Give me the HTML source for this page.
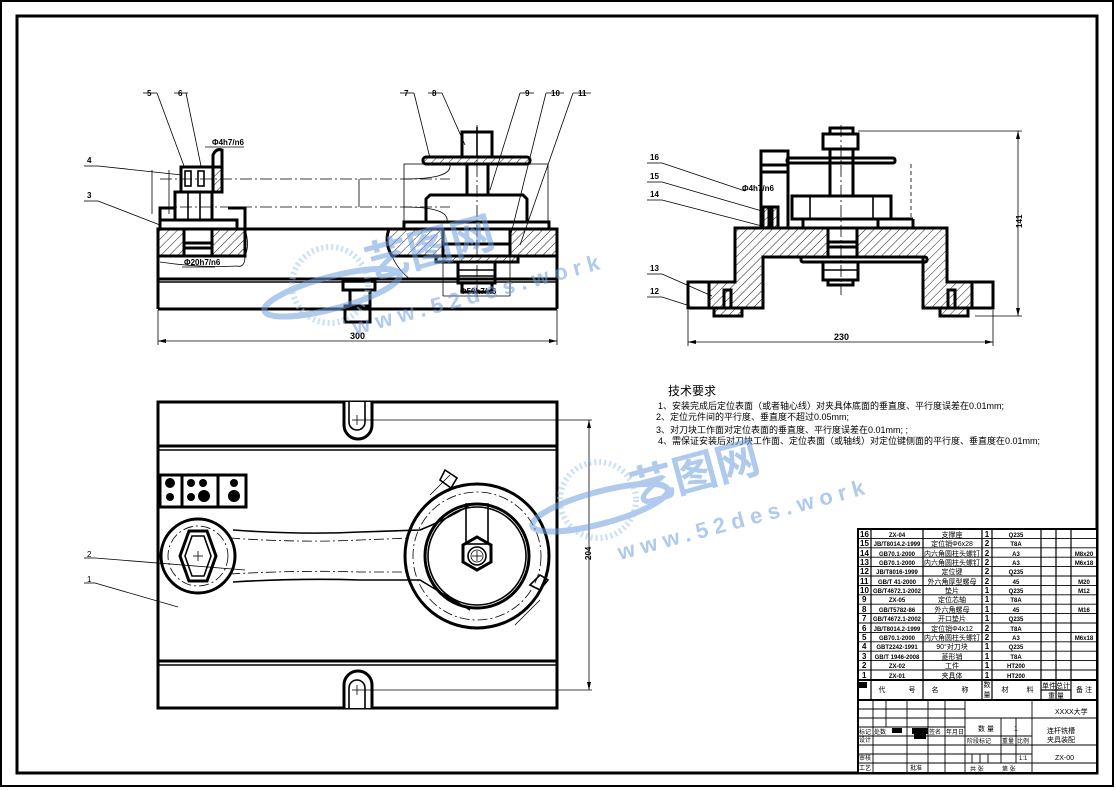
<!DOCTYPE html>
<html><head><meta charset="utf-8"><style>
html,body{margin:0;padding:0;background:#fff}
svg{display:block}
text{font-family:"Liberation Sans","Noto Sans CJK SC",sans-serif;fill:#000}
.t{stroke:#000;stroke-width:3;fill:none}
.m{stroke:#000;stroke-width:1.6;fill:none}
.n{stroke:#000;stroke-width:0.8;fill:none}
.h{stroke:#000;stroke-width:3;fill:url(#hat)}
.c{stroke:#000;stroke-width:0.8;fill:none;stroke-dasharray:12 3 2 3}
</style></head><body>
<svg width="1116" height="790" viewBox="0 0 1116 790" xmlns="http://www.w3.org/2000/svg">
<defs>
<pattern id="hat" patternUnits="userSpaceOnUse" width="6" height="6" patternTransform="rotate(45)">
<rect width="6" height="6" fill="#fff"/><line x1="0" y1="0" x2="0" y2="6" stroke="#000" stroke-width="0.9"/></pattern>
<pattern id="hat2" patternUnits="userSpaceOnUse" width="6" height="6" patternTransform="rotate(-45)">
<rect width="6" height="6" fill="#fff"/><line x1="0" y1="0" x2="0" y2="6" stroke="#000" stroke-width="0.9"/></pattern>
</defs>
<rect x="1" y="1" width="1112" height="785" fill="none" stroke="#000" stroke-width="2"/>
<rect x="17" y="16" width="1080" height="757" fill="none" stroke="#000" stroke-width="3"/>

<!-- ===== Front view ===== -->
<line class="t" x1="158" y1="229" x2="557" y2="229"/>
<rect x="158" y="229" width="26" height="27" class="h"/>
<rect x="212" y="229" width="33" height="27" class="h"/>
<rect x="184" y="229" width="28" height="27" class="t"/>
<line class="t" x1="184" y1="243" x2="212" y2="243"/><line class="t" x1="184" y1="248" x2="212" y2="248"/>
<path class="h" d="M389 229 L443 229 L443 256 L392 256 Q384 243 389 229Z"/>
<rect x="510" y="229" width="47" height="27" class="h"/>
<rect x="443" y="229" width="67" height="27" class="t"/>
<line class="t" x1="443" y1="244" x2="510" y2="244"/>
<line class="t" x1="158" y1="256" x2="245" y2="256"/>
<line class="t" x1="158" y1="229" x2="158" y2="309"/><line class="t" x1="557" y1="229" x2="557" y2="309"/>
<line class="t" x1="158" y1="279" x2="557" y2="279"/><line class="m" x1="158" y1="282" x2="557" y2="282"/>
<line class="t" x1="158" y1="309" x2="557" y2="309"/>
<path class="n" d="M160 262 Q200 268 237 266 Q245 268 245 256"/>
<path class="n" d="M245 229 Q250 245 245 256"/>
<path class="n" d="M392 256 Q398 270 410 279"/>
<rect x="343" y="281" width="32" height="9" class="t"/>
<rect x="350" y="290" width="20" height="16" class="t"/>
<rect x="345" y="306" width="25" height="16" class="t"/>
<!-- left assembly -->
<rect x="160" y="220" width="77" height="9" class="t"/>
<path class="t" d="M160 220 L160 208 L175 208"/><path class="t" d="M228 208 L245 208 L245 229"/>
<rect x="175" y="192" width="37" height="28" class="t"/>
<line class="m" x1="188" y1="192" x2="188" y2="220"/><line class="m" x1="200" y1="192" x2="200" y2="220"/>
<rect x="181" y="167" width="41" height="25" class="t"/>
<rect x="213" y="167" width="9" height="25" class="h"/>
<path class="t" d="M213 192 L213 155 Q216 148 222 150 L222 192"/>
<rect x="185" y="171" width="6" height="15" class="m"/><rect x="198" y="171" width="6" height="15" class="m"/>
<line class="n" x1="152" y1="170" x2="152" y2="214"/><line class="n" x1="169" y1="170" x2="169" y2="214"/>
<!-- right assembly -->
<rect x="404" y="222" width="145" height="7" class="t"/>
<rect x="404" y="164" width="144" height="58" class="n"/>
<path class="t" d="M426 222 L426 199 L430 195 L523 195 L527 199 L527 222"/>
<rect x="467" y="164" width="21" height="31" class="t"/>
<rect x="423" y="157" width="107" height="7" rx="3" class="h"/>
<rect x="462" y="132" width="30" height="25" class="t"/>
<line class="m" x1="477" y1="127" x2="477" y2="157"/>
<rect x="436" y="256" width="82" height="6" class="h"/>
<rect x="458" y="262" width="37" height="21" class="t"/>
<line class="m" x1="458" y1="270" x2="495" y2="270"/><line class="m" x1="458" y1="276" x2="495" y2="276"/>
<rect x="462" y="283" width="30" height="9" class="t"/>
<line class="c" x1="477" y1="125" x2="477" y2="300"/>
<line class="c" x1="160" y1="179" x2="450" y2="179"/><line class="c" x1="160" y1="207" x2="450" y2="207"/>
<line class="n" x1="359" y1="179" x2="359" y2="207"/>
<path class="n" d="M404 179 Q452 179 450 165"/><path class="n" d="M404 207 Q450 207 447 222"/>
<!-- dims & labels -->
<line class="n" x1="158" y1="310" x2="158" y2="345"/><line class="n" x1="557" y1="310" x2="557" y2="345"/>
<line class="n" x1="158" y1="341" x2="557" y2="341"/>
<path d="M158 341 l8 -2 v4z M557 341 l-8 -2 v4z"/>
<text x="350" y="339" font-size="9" font-weight="bold">300</text>
<text x="212" y="145" font-size="8" font-weight="bold">Φ4h7/n6</text><line class="n" x1="205" y1="147" x2="244" y2="147"/>
<text x="184" y="265" font-size="8" font-weight="bold">Φ20h7/n6</text><line class="n" x1="182" y1="267" x2="215" y2="267"/>
<line class="n" x1="443" y1="256" x2="443" y2="296"/><line class="n" x1="510" y1="256" x2="510" y2="296"/>
<line class="n" x1="443" y1="296" x2="510" y2="296"/>
<text x="460" y="294" font-size="8" font-weight="bold">Φ50h7/n6</text>
<g font-size="8" font-weight="bold">
<text x="147" y="96">5</text><line class="n" x1="143" y1="93" x2="157" y2="93"/><line class="n" x1="157" y1="93" x2="184" y2="166"/>
<text x="178" y="96">6</text><line class="n" x1="174" y1="93" x2="188" y2="93"/><line class="n" x1="186" y1="93" x2="201" y2="166"/>
<text x="87" y="163">4</text><line class="n" x1="84" y1="166" x2="98" y2="166"/><line class="n" x1="98" y1="166" x2="182" y2="175"/>
<text x="87" y="198">3</text><line class="n" x1="84" y1="201" x2="98" y2="201"/><line class="n" x1="98" y1="201" x2="160" y2="225"/>
<text x="404" y="96">7</text><line class="n" x1="400" y1="93" x2="414" y2="93"/><line class="n" x1="414" y1="93" x2="430" y2="158"/>
<text x="432" y="96">8</text><line class="n" x1="428" y1="93" x2="442" y2="93"/><line class="n" x1="442" y1="93" x2="465" y2="145"/>
<text x="525" y="96">9</text><line class="n" x1="520" y1="93" x2="534" y2="93"/><line class="n" x1="520" y1="93" x2="490" y2="190"/>
<text x="551" y="96">10</text><line class="n" x1="546" y1="93" x2="564" y2="93"/><line class="n" x1="546" y1="93" x2="510" y2="238"/>
<text x="578" y="96">11</text><line class="n" x1="573" y1="93" x2="591" y2="93"/><line class="n" x1="573" y1="93" x2="520" y2="245"/>
</g>

<!-- ===== Side view ===== -->
<path class="h" d="M709 282 L735 282 L735 228 L828 228 L828 257 L763 257 L763 308 L709 308Z"/>
<path class="h" d="M857 228 L947 228 L947 282 L972 282 L972 308 L923 308 L923 257 L857 257Z"/>
<rect x="688" y="282" width="21" height="26" class="t"/><rect x="972" y="282" width="21" height="26" class="t"/>
<rect x="828" y="228" width="29" height="29" class="t"/>
<line class="t" x1="828" y1="242" x2="857" y2="242"/><line class="t" x1="828" y1="247" x2="857" y2="247"/>
<rect x="714" y="308" width="28" height="8" class="h"/><rect x="940" y="308" width="28" height="8" class="h"/>
<rect x="724" y="290" width="7" height="18" class="t"/><rect x="948" y="290" width="7" height="18" class="t"/>
<rect x="801" y="257" width="126" height="5" rx="2" class="t"/>
<rect x="823" y="262" width="35" height="18" class="t"/><line class="m" x1="823" y1="270" x2="858" y2="270"/>
<rect x="828" y="280" width="25" height="5" class="t"/>
<rect x="761" y="151" width="27" height="77" class="t"/>
<line class="t" x1="761" y1="165" x2="788" y2="165"/><line class="t" x1="761" y1="172" x2="788" y2="172"/>
<rect x="763" y="207" width="6" height="21" class="h"/><rect x="772" y="207" width="6" height="21" class="h"/>
<rect x="803" y="219" width="75" height="9" class="t"/>
<line class="t" x1="788" y1="228" x2="913" y2="228"/><line class="t" x1="878" y1="219" x2="913" y2="219"/><line class="t" x1="913" y1="219" x2="913" y2="228"/>
<rect x="792" y="196" width="99" height="23" class="t"/>
<line class="m" x1="810" y1="196" x2="810" y2="219"/><line class="m" x1="873" y1="196" x2="873" y2="219"/>
<rect x="830" y="149" width="23" height="47" class="t"/>
<rect x="823" y="134" width="35" height="15" class="t"/><rect x="830" y="128" width="23" height="6" class="t"/>
<rect x="787" y="158" width="108" height="5" rx="2" class="t"/>
<line class="c" x1="841" y1="125" x2="841" y2="295"/>
<line class="n" x1="911" y1="164" x2="911" y2="219" stroke-dasharray="4 3"/>
<line class="n" x1="858" y1="131" x2="1022" y2="131"/><line class="n" x1="975" y1="316" x2="1022" y2="316"/>
<line class="n" x1="1018" y1="131" x2="1018" y2="316"/>
<path d="M1018 131 l-2 8 h4z M1018 316 l-2 -8 h4z"/>
<text x="1022" y="228" font-size="8" font-weight="bold" transform="rotate(-90 1022 228)">141</text>
<line class="n" x1="688" y1="310" x2="688" y2="346"/><line class="n" x1="993" y1="310" x2="993" y2="346"/>
<line class="n" x1="688" y1="342" x2="993" y2="342"/>
<path d="M688 342 l8 -2 v4z M993 342 l-8 -2 v4z"/>
<text x="834" y="340" font-size="9" font-weight="bold">230</text>
<text x="742" y="191" font-size="8" font-weight="bold">Φ4h7/n6</text>
<g font-size="8" font-weight="bold">
<text x="650" y="160">16</text><line class="n" x1="647" y1="163" x2="662" y2="163"/><line class="n" x1="662" y1="163" x2="745" y2="191"/>
<text x="650" y="179">15</text><line class="n" x1="647" y1="182" x2="662" y2="182"/><line class="n" x1="662" y1="182" x2="762" y2="211"/>
<text x="650" y="197">14</text><line class="n" x1="647" y1="200" x2="662" y2="200"/><line class="n" x1="662" y1="200" x2="762" y2="226"/>
<text x="650" y="271">13</text><line class="n" x1="647" y1="274" x2="662" y2="274"/><line class="n" x1="662" y1="274" x2="712" y2="296"/>
<text x="650" y="294">12</text><line class="n" x1="647" y1="297" x2="662" y2="297"/><line class="n" x1="662" y1="297" x2="690" y2="306"/>
</g>

<!-- ===== Top view ===== -->
<rect x="158" y="402" width="399" height="306" class="t"/>
<line class="t" x1="158" y1="446" x2="557" y2="446"/><line class="m" x1="158" y1="450" x2="557" y2="450"/>
<line class="t" x1="158" y1="661" x2="557" y2="661"/><line class="m" x1="158" y1="665" x2="557" y2="665"/>
<path d="M344 402 L344 425 A14 14 0 0 0 372 425 L372 402" fill="#fff" stroke="#000" stroke-width="3"/>
<path d="M349 402 L349 422 A8 8 0 0 0 365 422 L365 402" class="m"/>
<path d="M344 708 L344 685 A14 14 0 0 1 372 685 L372 708" fill="#fff" stroke="#000" stroke-width="3"/>
<path d="M349 708 L349 688 A8 8 0 0 1 365 688 L365 708" class="m"/>
<line class="n" x1="352" y1="420" x2="362" y2="420"/><line class="n" x1="357" y1="415" x2="357" y2="425"/>
<line class="n" x1="352" y1="690" x2="362" y2="690"/><line class="n" x1="357" y1="685" x2="357" y2="695"/>
<line class="n" x1="362" y1="420" x2="592" y2="420"/><line class="n" x1="362" y1="690" x2="592" y2="690"/>
<line class="n" x1="589" y1="420" x2="589" y2="690"/>
<path d="M589 420 l-2 8 h4z M589 690 l-2 -8 h4z"/>
<text x="591" y="560" font-size="8" font-weight="bold" transform="rotate(-90 591 560)">204</text>
<!-- key block -->
<rect x="160" y="475" width="86" height="32" class="t"/>
<line class="t" x1="182" y1="475" x2="182" y2="507"/><line class="t" x1="218" y1="475" x2="218" y2="507"/>
<g fill="#000"><circle cx="170" cy="483" r="5"/><circle cx="170" cy="497" r="4"/><circle cx="191" cy="483" r="4"/><circle cx="203" cy="483" r="4"/><circle cx="191" cy="497" r="4"/><circle cx="204" cy="496" r="6"/><circle cx="234" cy="483" r="4"/><circle cx="234" cy="496" r="6"/></g>
<!-- connecting rod -->
<path class="m" d="M233 530 Q300 535 360 532 L420 530 Q445 520 470 505"/>
<path class="m" d="M233 582 Q300 578 360 580 L420 580 Q445 595 470 610"/>
<path class="n" d="M230 538 Q300 543 360 540 L410 538" stroke-dasharray="10 3 2 3"/>
<path class="n" d="M230 574 Q300 570 360 572 L410 572" stroke-dasharray="10 3 2 3"/>
<circle cx="198" cy="556" r="37" class="t"/>
<circle cx="198" cy="556" r="30" class="n" stroke-dasharray="10 3 2 3"/>
<polygon points="180,556 189,531 207,531 216,556 207,581 189,581" class="t"/>
<polygon points="185,556 192,536 204,536 211,556 204,576 192,576" class="m"/>
<line class="n" x1="193" y1="556" x2="203" y2="556"/><line class="n" x1="198" y1="551" x2="198" y2="561"/>
<circle cx="477" cy="556" r="72" class="t"/>
<circle cx="477" cy="556" r="64" class="n" stroke-dasharray="10 3 2 3"/>
<circle cx="477" cy="556" r="52" class="t"/><circle cx="477" cy="556" r="49" class="m"/>
<path d="M445 470 L457 478 L451 488 L440 480Z M530 585 L540 575 L548 580 L540 590Z" class="m" fill="none"/>
<path class="n" d="M430 495 L450 475 M540 600 L515 625"/>
<rect x="466" y="504" width="22" height="40" class="m" fill="#fff"/>
<polygon points="477,537 491,545 491,562 477,570 463,562 463,545" class="t" fill="#fff"/>
<circle cx="477" cy="556" r="9" class="m"/><circle cx="477" cy="556" r="6" class="n"/>
<line class="n" x1="472" y1="556" x2="482" y2="556"/><line class="n" x1="477" y1="551" x2="477" y2="561"/>
<g font-size="8"><text x="87" y="557">2</text><line class="n" x1="84" y1="558" x2="95" y2="558"/><line class="n" x1="95" y1="558" x2="245" y2="570"/>
<text x="87" y="582">1</text><line class="n" x1="84" y1="583" x2="95" y2="583"/><line class="n" x1="95" y1="583" x2="178" y2="607"/></g>

<!-- ===== Tech requirements ===== -->
<text x="668" y="395" font-size="12">技术要求</text>
<g font-size="9">
<text x="658" y="409">1、安装完成后定位表面（或者轴心线）对夹具体底面的垂直度、平行度误差在0.01mm;</text>
<text x="656" y="420">2、定位元件间的平行度、垂直度不超过0.05mm;</text>
<text x="656" y="433">3、对刀块工作面对定位表面的垂直度、平行度误差在0.01mm; ;</text>
<text x="658" y="444">4、需保证安装后对刀块工作面、定位表面（或轴线）对定位键侧面的平行度、垂直度在0.01mm;</text>
</g>

<!-- ===== Title block ===== -->
<g>
<rect x="858" y="529" width="239" height="244" fill="#fff" stroke="#000" stroke-width="2"/>
<g stroke="#000" stroke-width="0.9">
<line x1="858" y1="538.4" x2="1097" y2="538.4"/><line x1="858" y1="547.8" x2="1097" y2="547.8"/><line x1="858" y1="557.2" x2="1097" y2="557.2"/><line x1="858" y1="566.6" x2="1097" y2="566.6"/><line x1="858" y1="576" x2="1097" y2="576"/><line x1="858" y1="585.4" x2="1097" y2="585.4"/><line x1="858" y1="594.8" x2="1097" y2="594.8"/><line x1="858" y1="604.2" x2="1097" y2="604.2"/><line x1="858" y1="613.6" x2="1097" y2="613.6"/><line x1="858" y1="623" x2="1097" y2="623"/><line x1="858" y1="632.4" x2="1097" y2="632.4"/><line x1="858" y1="641.8" x2="1097" y2="641.8"/><line x1="858" y1="651.2" x2="1097" y2="651.2"/><line x1="858" y1="660.6" x2="1097" y2="660.6"/><line x1="858" y1="670" x2="1097" y2="670"/>
</g>
<line x1="858" y1="680" x2="1097" y2="680" stroke="#000" stroke-width="2"/>
<line x1="858" y1="700" x2="1097" y2="700" stroke="#000" stroke-width="2"/>
<g stroke="#000" stroke-width="1.2">
<line x1="871" y1="529" x2="871" y2="700"/><line x1="923" y1="529" x2="923" y2="700"/><line x1="982" y1="529" x2="982" y2="700"/><line x1="992" y1="529" x2="992" y2="700"/><line x1="1041" y1="529" x2="1041" y2="700"/><line x1="1056" y1="529" x2="1056" y2="700"/><line x1="1071" y1="529" x2="1071" y2="700"/>
<line x1="1041" y1="690" x2="1071" y2="690"/>
</g>
<g font-size="6" font-weight="bold" text-anchor="middle">
<text x="897" y="537">ZX-04</text><text x="897" y="546">JB/T8014.2-1999</text><text x="897" y="556">GB70.1-2000</text><text x="897" y="565">GB70.1-2000</text><text x="897" y="574">JB/T8016-1999</text><text x="897" y="584">GB/T 41-2000</text><text x="897" y="593">GB/T4672.1-2002</text><text x="897" y="602">ZX-05</text><text x="897" y="612">GB/T5782-86</text><text x="897" y="621">GB/T4672.1-2002</text><text x="897" y="631">JB/T8014.2-1999</text><text x="897" y="640">GB70.1-2000</text><text x="897" y="649">GBT2242-1991</text><text x="897" y="659">GB/T 1946-2008</text><text x="897" y="668">ZX-02</text><text x="897" y="678">ZX-01</text>
<text x="1016" y="537">Q235</text><text x="1016" y="546">T8A</text><text x="1016" y="556">A3</text><text x="1016" y="565">A3</text><text x="1016" y="574">Q235</text><text x="1016" y="584">45</text><text x="1016" y="593">Q235</text><text x="1016" y="602">T8A</text><text x="1016" y="612">45</text><text x="1016" y="621">Q235</text><text x="1016" y="631">T8A</text><text x="1016" y="640">A3</text><text x="1016" y="649">Q235</text><text x="1016" y="659">T8A</text><text x="1016" y="668">HT200</text><text x="1016" y="678">HT200</text>
<text x="1084" y="556">M8x20</text><text x="1084" y="565">M6x18</text><text x="1084" y="584">M20</text><text x="1084" y="593">M12</text><text x="1084" y="612">M16</text><text x="1084" y="640">M6x18</text>
</g>
<g font-size="8" font-weight="bold">
<text x="860" y="537">16</text><text x="860" y="546">15</text><text x="860" y="556">14</text><text x="860" y="565">13</text><text x="860" y="574">12</text><text x="860" y="584">11</text><text x="860" y="593">10</text><text x="862" y="602">9</text><text x="862" y="612">8</text><text x="862" y="621">7</text><text x="862" y="631">6</text><text x="862" y="640">5</text><text x="862" y="649">4</text><text x="862" y="659">3</text><text x="862" y="668">2</text><text x="862" y="678">1</text>
<g text-anchor="middle"><text x="987" y="537">1</text><text x="987" y="546">2</text><text x="987" y="556">2</text><text x="987" y="565">2</text><text x="987" y="574">2</text><text x="987" y="584">2</text><text x="987" y="593">1</text><text x="987" y="602">1</text><text x="987" y="612">1</text><text x="987" y="621">1</text><text x="987" y="631">2</text><text x="987" y="640">2</text><text x="987" y="649">1</text><text x="987" y="659">1</text><text x="987" y="668">1</text><text x="987" y="678">1</text></g>
</g>
<g font-size="7" text-anchor="middle" fill="#333">
<text x="952" y="537">支撑座</text><text x="952" y="546">定位销Φ6x28</text><text x="952" y="556">内六角圆柱头螺钉</text><text x="952" y="565">内六角圆柱头螺钉</text><text x="952" y="574">定位键</text><text x="952" y="584">外六角厚型螺母</text><text x="952" y="593">垫片</text><text x="952" y="602">定位芯轴</text><text x="952" y="612">外六角螺母</text><text x="952" y="621">开口垫片</text><text x="952" y="631">定位销Φ4x12</text><text x="952" y="640">内六角圆柱头螺钉</text><text x="952" y="649">90°对刀块</text><text x="952" y="659">菱形销</text><text x="952" y="668">工件</text><text x="952" y="678">夹具体</text>
<text x="882" y="692">代</text><text x="912" y="692">号</text><text x="935" y="692">名</text><text x="965" y="692">称</text><text x="987" y="687">数</text><text x="987" y="697">量</text><text x="1005" y="692">材</text><text x="1030" y="692">料</text><text x="1056" y="688">单件总计</text><text x="1056" y="698">重 量</text><text x="1084" y="692">备 注</text>
</g>
<rect x="859" y="682" width="8" height="6" fill="#000"/>
<g stroke="#000" stroke-width="0.9">
<line x1="858" y1="709" x2="965" y2="709"/><line x1="858" y1="718" x2="965" y2="718"/><line x1="858" y1="727" x2="965" y2="727"/><line x1="858" y1="736" x2="1032" y2="736"/><line x1="858" y1="745" x2="1097" y2="745"/><line x1="858" y1="754" x2="965" y2="754"/><line x1="858" y1="763" x2="1097" y2="763"/>
<line x1="965" y1="718" x2="1097" y2="718"/><line x1="965" y1="754" x2="1032" y2="754"/>
<line x1="873" y1="700" x2="873" y2="773"/><line x1="886" y1="700" x2="886" y2="727"/><line x1="907" y1="700" x2="907" y2="773"/><line x1="928" y1="700" x2="928" y2="773"/><line x1="945" y1="700" x2="945" y2="773"/>
<line x1="965" y1="700" x2="965" y2="773"/><line x1="1032" y1="700" x2="1032" y2="773"/>
<line x1="1001" y1="718" x2="1001" y2="763"/><line x1="1016" y1="718" x2="1016" y2="763"/>
<line x1="972" y1="754" x2="972" y2="763"/><line x1="980" y1="754" x2="980" y2="763"/><line x1="988" y1="754" x2="988" y2="763"/>
</g>
<rect x="892" y="728" width="10" height="5" fill="#000"/><rect x="912" y="728" width="16" height="6" fill="#000"/><rect x="914" y="734" width="12" height="5" fill="#000"/>
<g font-size="6" fill="#333">
<text x="859" y="734">标记</text><text x="874" y="734">处数</text><text x="929" y="734">签名</text><text x="946" y="734">年月日</text>
<text x="859" y="742">设计</text><text x="859" y="760">审核</text><text x="859" y="770">工艺</text><text x="910" y="770">批准</text>
<text x="1055" y="714" font-size="7">XXXX大学</text>
<text x="978" y="731" font-size="7">数 量</text><text x="1014" y="731" font-size="7">1</text>
<text x="967" y="743">阶段标记</text><text x="1002" y="743">重量</text><text x="1017" y="743">比例</text>
<text x="1019" y="760">1:1</text>
<text x="1047" y="733" font-size="7">连杆铣槽</text><text x="1047" y="742" font-size="7">夹具装配</text>
<text x="1055" y="760" font-size="7">ZX-00</text>
<text x="970" y="771">共 张</text><text x="1002" y="771">第 张</text>
</g>
</g>

<!-- ===== Watermarks ===== -->
<g opacity="0.55" fill="#6d9fdc">
<g transform="translate(330,285)">
<circle cx="0" cy="0" r="38" fill="none" stroke="#9fc3ec" stroke-width="6" stroke-dasharray="2 3"/>
<ellipse cx="0" cy="8" rx="70" ry="16" fill="none" stroke="#6d9fdc" stroke-width="6" transform="rotate(-15)"/>
</g>
<text x="370" y="280" font-size="44" font-weight="bold" fill="#6d9fdc" transform="rotate(-15 370 280)" style="fill:#6d9fdc">艺图网</text>
<text x="355" y="335" font-size="22" font-weight="bold" transform="rotate(-15 355 335)" style="fill:#6d9fdc;letter-spacing:6px">www.52des.work</text>
<g transform="translate(598,500)">
<circle cx="0" cy="0" r="38" fill="none" stroke="#9fc3ec" stroke-width="6" stroke-dasharray="2 3"/>
<ellipse cx="0" cy="8" rx="70" ry="16" fill="none" stroke="#6d9fdc" stroke-width="6" transform="rotate(-15)"/>
</g>
<text x="635" y="505" font-size="44" font-weight="bold" transform="rotate(-15 635 505)" style="fill:#6d9fdc">艺图网</text>
<text x="620" y="560" font-size="22" font-weight="bold" transform="rotate(-15 620 560)" style="fill:#6d9fdc;letter-spacing:6px">www.52des.work</text>
</g>
</svg>
</body></html>
